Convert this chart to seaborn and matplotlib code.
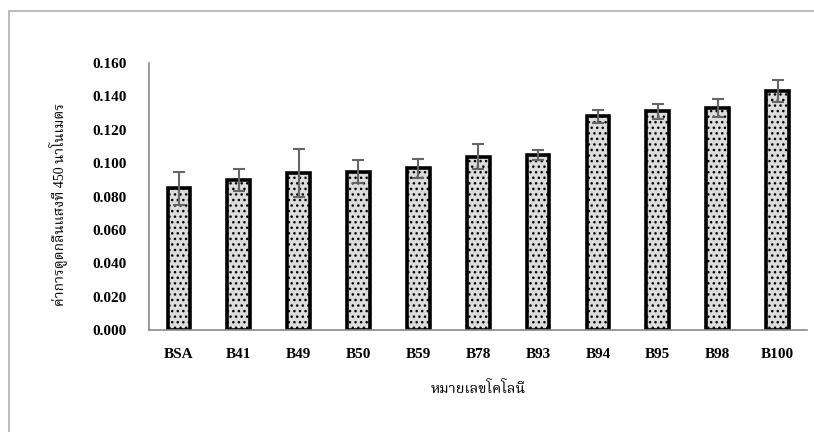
import matplotlib
matplotlib.use("Agg")
import matplotlib.pyplot as plt
from matplotlib.patches import Rectangle
import seaborn as sns
import pandas as pd

sns.set_style("white")

colonies = ["BSA", "B41", "B49", "B50", "B59", "B78", "B93", "B94", "B95", "B98", "B100"]
absorbance = [0.085, 0.090, 0.094, 0.095, 0.097, 0.104, 0.105, 0.128, 0.131, 0.133, 0.143]
sd = [0.010, 0.0065, 0.0145, 0.0068, 0.0057, 0.0075, 0.0030, 0.0040, 0.0046, 0.0056, 0.0066]

df = pd.DataFrame({"colony": colonies, "abs": absorbance, "sd": sd})

thai = ["Liberation Serif", "Noto Serif Thai"]
plt.rcParams["hatch.linewidth"] = 1.0
plt.rcParams["hatch.color"] = "#303030"

fig = plt.figure(figsize=(8.14, 4.32), dpi=100)
ax = fig.add_axes([0.183, 0.236, 0.809, 0.618])

sns.barplot(data=df, x="colony", y="abs", color="#dcdcdc", saturation=1,
            width=0.38, edgecolor="black", linewidth=2.6, hatch="...",
            errorbar=None, ax=ax)
ax.errorbar(range(len(df)), df["abs"], yerr=df["sd"], fmt="none",
            ecolor="#666666", elinewidth=1.5, capsize=4, capthick=1.5)

ax.set_xlim(-0.5, 10.5)
ax.set_ylim(0, 0.16)
ax.set_yticks([i * 0.02 for i in range(9)])
ax.set_yticklabels([f"{i * 0.02:.3f}" for i in range(9)])
ax.tick_params(axis="both", length=0, labelcolor="black")
ax.tick_params(axis="y", pad=16)
ax.tick_params(axis="x", pad=13)
for lab in ax.get_xticklabels() + ax.get_yticklabels():
    lab.set_fontfamily("Liberation Serif")
    lab.set_fontweight("bold")
    lab.set_fontsize(11)

for side in ["top", "right"]:
    ax.spines[side].set_visible(False)
for side in ["left", "bottom"]:
    ax.spines[side].set_color("#8a8a8a")
    ax.spines[side].set_linewidth(1.2)

ax.set_xlabel("หมายเลขโคโลนี", family=thai, fontsize=10.5, color="black")
ax.set_ylabel("ค่าการดูดกลืนแสงที่ 450 นาโนเมตร", family=thai, fontsize=10, color="black")
ax.xaxis.set_label_coords(0.5, -0.19)
ax.yaxis.set_label_coords(-0.124, 0.47)

# chart area border (cropped at right and bottom)
fig.patches.append(Rectangle((9 / 814, -0.1), 1.2, 1.1 - 11 / 432,
                             transform=fig.transFigure, fill=False,
                             edgecolor="#bdbdbd", linewidth=1.5, clip_on=False))

fig.savefig("out.png", dpi=100)
